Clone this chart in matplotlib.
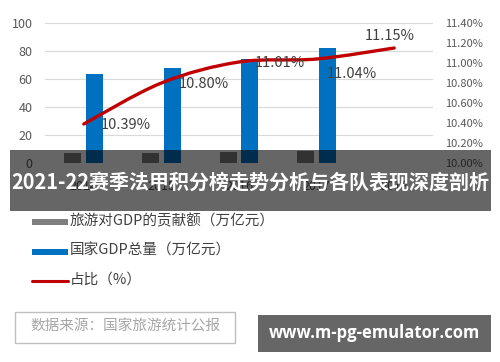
import numpy as np
import matplotlib
matplotlib.use("Agg")
import matplotlib.pyplot as plt
from matplotlib.patches import Rectangle, PathPatch
from matplotlib.path import Path

plt.rcParams['font.family'] = ['Noto Sans CJK SC', 'DejaVu Sans']

# data
years = ["2014", "2015", "2016", "2017", "2018"]
tourism_gdp = [6.9, 7.2, 8.0, 8.4]          # 旅游对GDP的贡献额 (万亿元)
national_gdp = [63.6, 67.5, 74.3, 82.4]     # 国家GDP总量 (万亿元)
share_pct = [10.39, 10.80, 11.01, 11.04, 11.15]  # 占比 (%)

title = "2021-22赛季法甲积分榜走势分析与各队表现深度剖析"
legend_labels = ["旅游对GDP的贡献额（万亿元）", "国家GDP总量（万亿元）", "占比（%）"]
source_text = "数据来源：国家旅游统计公报"
watermark = "www.m-pg-emulator.com"

GRAY = "#7f7f7f"
BLUE = "#0070C0"
RED = "#C00000"
TICK = "#595959"


def smooth_path(xs, ys):
    # catmull-rom style bezier through the points (like excel "smoothed line")
    pts = np.column_stack([xs, ys]).astype(float)
    n = len(pts)
    verts = [pts[0]]
    codes = [Path.MOVETO]
    for i in range(n - 1):
        p0 = pts[max(i - 1, 0)]
        p1 = pts[i]
        p2 = pts[i + 1]
        p3 = pts[min(i + 2, n - 1)]
        c1 = p1 + (p2 - p0) / 6
        c2 = p2 - (p3 - p1) / 6
        verts += [c1, c2, p2]
        codes += [Path.CURVE4] * 3
    return Path(verts, codes)


fig = plt.figure(figsize=(5, 3.62), dpi=100)
ax = fig.add_axes([45 / 500, 1 - 163 / 362, 388 / 500, 140 / 362])

x = np.arange(len(years))
ax.bar(x[:4] - 0.14, tourism_gdp, 0.22, color=GRAY, zorder=2)
ax.bar(x[:4] + 0.14, national_gdp, 0.22, color=BLUE, zorder=2)
ax.set_xlim(-0.5, 4.5)
ax.set_ylim(0, 100)
ax.set_yticks(range(0, 101, 20))
ax.set_xticks(x)
ax.set_xticklabels(years)
ax.grid(axis="y", color="#d9d9d9", lw=0.8)
ax.set_axisbelow(True)
for s in ax.spines.values():
    s.set_visible(False)
ax.tick_params(axis="y", length=0, pad=9, labelsize=9, labelcolor=TICK)
ax.tick_params(axis="x", length=0, pad=12, labelsize=9, labelcolor=TICK)

ax2 = ax.twinx()
ax2.set_ylim(10.0, 11.4)
ticks = np.arange(10.0, 11.41, 0.2)
ax2.set_yticks(ticks)
ax2.set_yticklabels([f"{t:.2f}%" for t in ticks])
ax2.tick_params(axis="y", length=0, pad=9, labelsize=8, labelcolor=TICK)
for s in ax2.spines.values():
    s.set_visible(False)

ax2.add_patch(PathPatch(smooth_path(x, share_pct), fill=False, ec=RED, lw=2.4,
                        capstyle="round", joinstyle="round", zorder=3))

# label offsets in pixels (x right, y up)
label_offsets = [(17, -1, "left"), (17, -1, "left"), (16, -1, "left"),
                 (10, -15, "left"), (-4, 12, "center")]
for xi, v, (dx, dy, ha) in zip(x, share_pct, label_offsets):
    ax2.annotate(f"{v:.2f}%", (xi, v), xytext=(dx, dy), textcoords="offset pixels",
                 ha=ha, va="center", fontsize=10.5, color="#404040", zorder=4)

# overlay in pixel coords for banner, legend, source box and watermark
ov = fig.add_axes([0, 0, 1, 1], zorder=10)
ov.set_xlim(0, 500)
ov.set_ylim(362, 0)
ov.axis("off")
ov.patch.set_alpha(0)

ov.add_patch(Rectangle((10, 150), 481, 61, color="black", alpha=0.6, lw=0))
ov.text(250, 182, title, color="white", fontsize=14.4, fontweight="bold",
        ha="center", va="center")

ov.add_patch(Rectangle((32, 219), 36, 6, color=GRAY, lw=0))
ov.add_patch(Rectangle((32, 249), 36, 6, color=BLUE, lw=0))
ov.plot([32, 68], [281, 281], color=RED, lw=2.2, solid_capstyle="round")
for yy, lab in zip([221, 251, 280], legend_labels):
    ov.text(70, yy, lab, fontsize=10.5, color="#404040", ha="left", va="center")

ov.add_patch(Rectangle((15, 312), 220, 31, fill=False, ec="#bfbfbf", lw=1))
ov.text(30, 327, source_text, fontsize=10.5, color="#a6a6a6", ha="left", va="center")

ov.add_patch(Rectangle((258, 315), 233, 37, color="#666666", lw=0))
ov.text(374.5, 333, watermark, fontsize=12, color="white", fontweight="bold",
        family="Open Sans", ha="center", va="center")

fig.savefig("out.png", dpi=100)
